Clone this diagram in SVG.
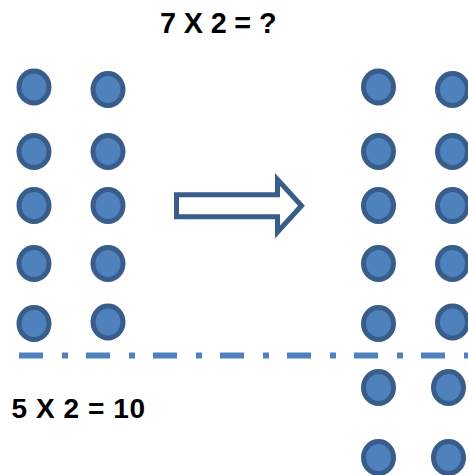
<svg xmlns="http://www.w3.org/2000/svg" width="468" height="475" viewBox="0 0 468 475">
<style>
.dot{fill:#4F81BD;stroke:#385D8A;stroke-width:5}
.lbl{font-family:"Liberation Sans",Arial,sans-serif;font-weight:bold;fill:#000}
</style>
<rect width="468" height="475" fill="#fff"/>
<text id="title" class="lbl" x="160" y="32.5" font-size="28.8" textLength="116.5" lengthAdjust="spacing">7 X 2 = ?</text>
<g id="left-dots">
<ellipse class="dot" cx="34" cy="87" rx="15" ry="16"/>
<ellipse class="dot" cx="108" cy="89.5" rx="15" ry="16"/>
<ellipse class="dot" cx="34" cy="151.5" rx="15" ry="16"/>
<ellipse class="dot" cx="108" cy="151.5" rx="15" ry="16"/>
<ellipse class="dot" cx="34" cy="205.5" rx="15" ry="16"/>
<ellipse class="dot" cx="108" cy="205.5" rx="15" ry="16"/>
<ellipse class="dot" cx="34" cy="263.5" rx="15" ry="16"/>
<ellipse class="dot" cx="108" cy="263.5" rx="15" ry="16"/>
<ellipse class="dot" cx="34" cy="323.5" rx="15" ry="16"/>
<ellipse class="dot" cx="108" cy="322" rx="15" ry="16"/>
</g>
<g id="right-dots">
<ellipse class="dot" cx="378.5" cy="87" rx="15" ry="16"/>
<ellipse class="dot" cx="452.5" cy="89.5" rx="15" ry="16"/>
<ellipse class="dot" cx="378.5" cy="151.5" rx="15" ry="16"/>
<ellipse class="dot" cx="452.5" cy="151.5" rx="15" ry="16"/>
<ellipse class="dot" cx="378.5" cy="205.5" rx="15" ry="16"/>
<ellipse class="dot" cx="452.5" cy="205.5" rx="15" ry="16"/>
<ellipse class="dot" cx="378.5" cy="263.5" rx="15" ry="16"/>
<ellipse class="dot" cx="452.5" cy="263.5" rx="15" ry="16"/>
<ellipse class="dot" cx="378.5" cy="323.5" rx="15" ry="16"/>
<ellipse class="dot" cx="452.5" cy="322" rx="15" ry="16"/>
<ellipse class="dot" cx="378.5" cy="387.5" rx="15" ry="16"/>
<ellipse class="dot" cx="448.5" cy="387.5" rx="15" ry="16"/>
<ellipse class="dot" cx="378.5" cy="457.5" rx="15" ry="16"/>
<ellipse class="dot" cx="448.5" cy="457.5" rx="15" ry="16"/>
</g>
<g id="connectors">
<path id="arrow" d="M176.5,194.8 H277.5 V179.5 L301.5,205.7 L277.5,232 V216.8 H176.5 Z" fill="#fff" stroke="#385D8A" stroke-width="5" stroke-linejoin="miter"/>
</g>
<line id="divider" x1="19" y1="355.5" x2="468" y2="355.5" stroke="#4F81BD" stroke-width="6" stroke-dasharray="24 19 6 18"/>
<text id="result" class="lbl" x="11.5" y="418" font-size="28" textLength="133.5" lengthAdjust="spacing">5 X 2 = 10</text>
</svg>
